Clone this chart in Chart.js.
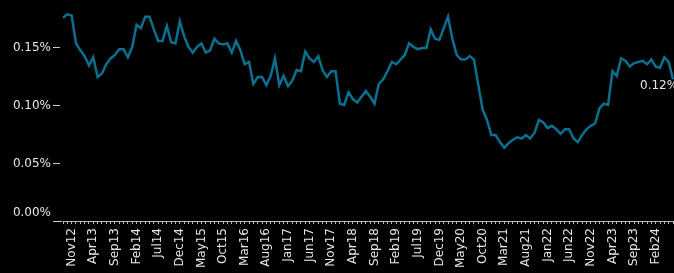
<!DOCTYPE html>
<html>
<head>
<meta charset="utf-8">
<script src="https://cdn.jsdelivr.net/npm/chart.js@4/dist/chart.umd.min.js"></script>
<style>
  html, body { margin: 0; padding: 0; background: #000; overflow: hidden; }
  #wrap { position: relative; width: 674px; height: 273px; }
</style>
</head>
<body>
<div id="wrap"><canvas id="c"></canvas></div>
<script>
const MONTHS = ['Jan','Feb','Mar','Apr','May','Jun','Jul','Aug','Sep','Oct','Nov','Dec'];
// Monthly categories, Sep 2012 .. Jun 2024
const categories = [];
for (let y = 2012, m = 8; categories.length < 142; ) {
  categories.push(MONTHS[m] + String(y).slice(2));
  m++; if (m === 12) { m = 0; y++; }
}
// Shown x tick labels
const tickLabels = ['Nov12','Apr13','Sep13','Feb14','Jul14','Dec14','May15','Oct15','Mar16','Aug16',
  'Jan17','Jun17','Nov17','Apr18','Sep18','Feb19','Jul19','Dec19','May20','Oct20','Mar21','Aug21',
  'Jan22','Jun22','Nov22','Apr23','Sep23','Feb24'];
// Series values (percent)
const values = [
  0.175,0.178,0.177,0.153,0.147,0.142,0.134,0.141,0.124,0.127,
  0.135,0.140,0.143,0.148,0.148,0.141,0.150,0.169,0.166,0.176,
  0.176,0.165,0.155,0.155,0.168,0.154,0.153,0.172,0.159,0.150,
  0.145,0.150,0.153,0.145,0.147,0.157,0.153,0.152,0.153,0.145,
  0.155,0.147,0.135,0.137,0.118,0.124,0.124,0.117,0.125,0.140,
  0.117,0.125,0.116,0.121,0.130,0.129,0.146,0.140,0.137,0.142,
  0.130,0.124,0.129,0.129,0.101,0.100,0.111,0.105,0.102,0.107,
  0.112,0.107,0.101,0.118,0.122,0.129,0.137,0.135,0.139,0.143,
  0.153,0.150,0.148,0.149,0.149,0.165,0.157,0.156,0.166,0.176,
  0.157,0.143,0.139,0.139,0.142,0.139,0.117,0.096,0.087,0.074,
  0.074,0.068,0.063,0.067,0.070,0.072,0.071,0.074,0.071,0.076,
  0.087,0.085,0.080,0.082,0.079,0.075,0.079,0.079,0.071,0.068,
  0.074,0.079,0.082,0.084,0.097,0.101,0.100,0.129,0.125,0.140,
  0.138,0.133,0.136,0.137,0.138,0.135,0.139,0.133,0.132,0.141,
  0.137,0.122
];
const yTicks = [0, 0.05, 0.10, 0.15];

const FONT = '12px "DejaVu Sans"';
const TXT = '#e6e6e6';

const customPlugin = {
  id: 'custom',
  afterDraw(chart) {
    const ctx = chart.ctx;
    const ys = chart.scales.y;
    const left = chart.chartArea.left;
    ctx.save();
    ctx.font = FONT;
    ctx.fillStyle = TXT;
    ctx.strokeStyle = '#cccccc';
    ctx.lineWidth = 1;
    ctx.textAlign = 'right';
    ctx.textBaseline = 'middle';
    yTicks.forEach(v => {
      const py = Math.round(ys.getPixelForValue(v)) + 0.5;
      ctx.beginPath();
      ctx.moveTo(left - 10, py);
      ctx.lineTo(v === 0 ? left - 1 : left - 3, py);
      ctx.stroke();
      ctx.fillText(v.toFixed(2) + '%', left - 12, v === 0 ? py - 9 : py);
    });
    // end label
    const meta = chart.getDatasetMeta(0);
    const last = meta.data[meta.data.length - 1];
    ctx.textAlign = 'left';
    ctx.fillText(values[values.length - 1].toFixed(2) + '%', last.x - 33, last.y + 7);
    ctx.restore();
  }
};

new Chart(document.getElementById('c'), {
  type: 'line',
  data: {
    labels: categories,
    datasets: [{
      data: values,
      borderColor: '#0b6f90',
      borderWidth: 2.5,
      pointRadius: 0,
      tension: 0,
      fill: false
    }]
  },
  options: {
    responsive: true,
    maintainAspectRatio: false,
    animation: false,
    devicePixelRatio: 1,
    layout: { padding: { top: 12, right: 1, bottom: 0, left: 0 } },
    plugins: { legend: { display: false }, tooltip: { enabled: false } },
    scales: {
      x: {
        type: 'category',
        offset: false,
        grid: { display: true, drawOnChartArea: false, drawTicks: true, tickLength: 3, color: '#bbbbbb', lineWidth: 1 },
        border: { display: true, color: '#bbbbbb', width: 1 },
        ticks: {
          autoSkip: false, maxRotation: 90, minRotation: 90, padding: 4,
          color: TXT, font: { family: 'DejaVu Sans', size: 12 },
          callback(val, i) { const l = categories[i]; return tickLabels.includes(l) ? l : ''; }
        },
        afterFit(s) { s.height = 52; s.paddingLeft = 0; s.paddingRight = 0; }
      },
      y: {
        min: 0, max: 0.18,
        grid: { display: false },
        border: { display: false },
        ticks: { display: false },
        afterFit(s) { s.width = 63; }
      }
    }
  },
  plugins: [customPlugin]
});
</script>
</body>
</html>
